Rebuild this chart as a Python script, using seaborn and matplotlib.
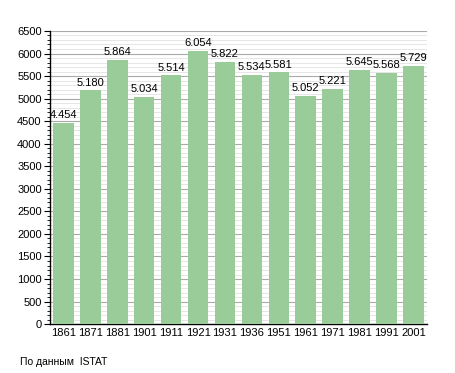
import pandas as pd
import seaborn as sns
import matplotlib.pyplot as plt
from matplotlib.ticker import MultipleLocator

# Data
years = ['1861', '1871', '1881', '1901', '1911', '1921', '1931',
         '1936', '1951', '1961', '1971', '1981', '1991', '2001']
population = [4454, 5180, 5864, 5034, 5514, 6054, 5822,
              5534, 5581, 5052, 5221, 5645, 5568, 5729]

df = pd.DataFrame({'year': years, 'pop': population})

sns.set_style('white')
plt.rcParams['font.family'] = ['Liberation Sans', 'DejaVu Sans']
plt.rcParams['text.color'] = 'black'
plt.rcParams['xtick.color'] = 'black'
plt.rcParams['ytick.color'] = 'black'

fig = plt.figure(figsize=(4.55, 3.73), dpi=100)
ax = fig.add_axes([0.110, 0.131, 0.828, 0.786])

sns.barplot(data=df, x='year', y='pop', color='#99cc99', saturation=1,
            width=0.76, ax=ax, zorder=3, edgecolor='none', linewidth=0)

ax.set_ylim(0, 6500)
ax.yaxis.set_major_locator(MultipleLocator(500))
ax.yaxis.set_minor_locator(MultipleLocator(100))
ax.grid(which='major', axis='y', color='#aaaaaa', linewidth=0.8, zorder=0)
ax.grid(which='minor', axis='y', color='#e2e2e2', linewidth=0.6, zorder=0)
ax.set_axisbelow(True)

for s in ['top', 'right']:
    ax.spines[s].set_visible(False)
ax.spines['left'].set_color('black')
ax.spines['bottom'].set_color('black')
ax.spines['left'].set_linewidth(1)
ax.spines['bottom'].set_linewidth(1)

ax.tick_params(axis='y', which='major', length=4, width=0.8, labelsize=8, left=True, pad=2)
ax.tick_params(axis='y', which='minor', length=2, width=0.6, left=True)
ax.tick_params(axis='x', length=0, labelsize=8, pad=3)
ax.set_xlabel('')
ax.set_ylabel('')

labels = [f'{v:,}'.replace(',', '.') for v in population]
ax.bar_label(ax.containers[0], labels=labels, fontsize=8, padding=2)

fig.text(20 / 455, 1 - 362 / 373, 'По данным  ISTAT', fontsize=7.5, va='center')

fig.savefig('out.png', dpi=100)
